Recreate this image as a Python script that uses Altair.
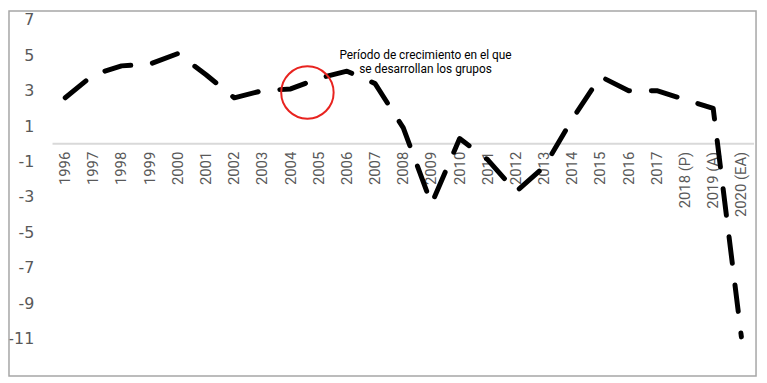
import altair as alt
import pandas as pd

# ---- data ----
years = ["1996", "1997", "1998", "1999", "2000", "2001", "2002", "2003", "2004",
         "2005", "2006", "2007", "2008", "2009", "2010", "2011", "2012", "2013",
         "2014", "2015", "2016", "2017", "2018 (P)", "2019 (A)", "2020 (EA)"]
growth = [2.6, 3.9, 4.4, 4.5, 5.1, 3.9, 2.6, 3.0, 3.1,
          3.7, 4.1, 3.4, 0.9, -3.4, 0.3, -0.9, -2.7, -1.3,
          1.4, 3.8, 3.0, 3.0, 2.5, 2.0, -10.9]
y_ticks = [-11, -9, -7, -5, -3, -1, 1, 3, 5, 7]
y_domain = [-13, 7]

annotation_lines = ["Período de crecimiento en el que", "se desarrollan los grupos"]
annotation_year = ["2009"]
annotation_value = [5.0]
circle_year = ["2004"]
circle_value = [2.9]

df = pd.DataFrame({"year": years, "growth": growth})
ann_df = pd.DataFrame({"year": annotation_year, "v": annotation_value,
                       "label": [annotation_lines]})
circ_df = pd.DataFrame({"year": circle_year, "v": circle_value})

W, H = 709, 358
xscale = alt.Scale(type="point", domain=years, padding=0.45)
yscale = alt.Scale(domain=y_domain, nice=False, zero=False)
yaxis = alt.Axis(values=y_ticks, grid=False, domain=False, ticks=False,
                 labelOverlap=False, labelExpr="'' + datum.value",
                 labelPadding=19, labelFont="DejaVu Sans", labelFontSize=16,
                 labelColor="#595959", title=None)

frame = alt.Chart(alt.Data(values=[{}])).mark_rect(
    fillOpacity=0, stroke="#a6a6a6", strokeWidth=1.5
).encode(x=alt.value(-44), x2=alt.value(711), y=alt.value(-9), y2=alt.value(360))

zero = alt.Chart(alt.Data(values=[{}])).mark_rule(
    color="#d9d9d9", strokeWidth=2
).encode(y=alt.datum(0, scale=yscale, axis=yaxis))

labels = alt.Chart(df).mark_text(
    angle=270, align="right", baseline="middle", dx=-8,
    font="Roboto", fontSize=15, color="#595959"
).encode(
    x=alt.X("year:N", scale=xscale, sort=years, axis=None),
    y=alt.datum(0, axis=yaxis),
    text="year:N",
)

line = alt.Chart(df).mark_line(
    color="black", strokeWidth=5, strokeDash=[27, 22],
    strokeCap="round", strokeJoin="round"
).encode(
    x=alt.X("year:N", scale=xscale, sort=years, axis=None),
    y=alt.Y("growth:Q", scale=yscale, axis=yaxis),
)

circle = alt.Chart(circ_df).mark_point(
    shape="circle", filled=False, size=2809, color="#e8231f", opacity=1,
    strokeWidth=2, xOffset=17
).encode(
    x=alt.X("year:N", scale=xscale, sort=years, axis=None),
    y=alt.Y("v:Q", scale=yscale, axis=yaxis),
)

annotation = alt.Chart(ann_df).mark_text(
    font="Roboto", fontSize=12, color="black", align="center",
    baseline="middle", lineHeight=14, xOffset=-6
).encode(
    x=alt.X("year:N", scale=xscale, sort=years, axis=None),
    y=alt.Y("v:Q", scale=yscale, axis=yaxis),
    text="label",
)

chart = alt.layer(frame, zero, labels, line, circle, annotation).properties(
    width=W, height=H,
    background="white",
    autosize=alt.AutoSizeParams(type="none"),
    padding={"left": 45, "top": 10, "right": 5, "bottom": 4},
).configure_view(strokeOpacity=0, stroke="transparent").configure_axis(labelOverlap=False)

chart.save("out.html", embed_options={"renderer": "svg", "actions": False})
